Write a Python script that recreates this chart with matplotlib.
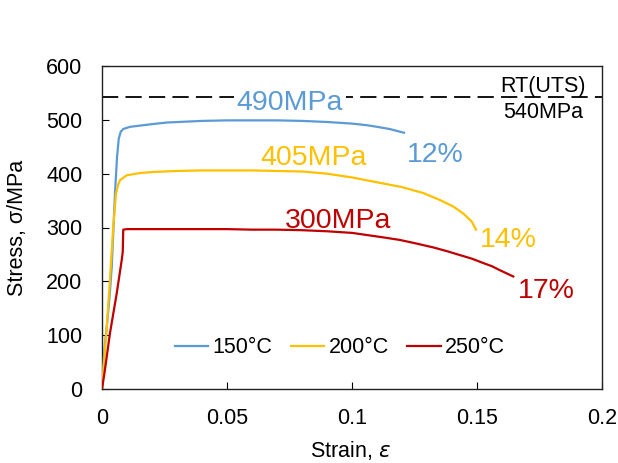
import matplotlib
matplotlib.use("Agg")
import matplotlib.pyplot as plt

plt.rcParams['font.family'] = ['Liberation Sans', 'DejaVu Sans']

# 150 C
strain_150 = [0, 0.0005, 0.001, 0.002, 0.003, 0.0039, 0.0046, 0.0052, 0.006, 0.0067, 0.0075,
              0.0085, 0.0112, 0.02, 0.026, 0.04, 0.05, 0.06, 0.07, 0.08, 0.09, 0.1, 0.106,
              0.11, 0.115, 0.1208]
stress_150 = [0, 40, 75, 120, 170, 227, 300, 364, 430, 465, 478,
              483, 487, 492, 495, 498, 499, 499, 499, 498, 496, 493, 490,
              487, 483, 476]
# 200 C
strain_200 = [0, 0.001, 0.0019, 0.003, 0.0045, 0.0056, 0.0065, 0.0072, 0.0099, 0.015, 0.02,
              0.03, 0.04, 0.05, 0.06, 0.07, 0.08, 0.09, 0.1, 0.11, 0.12, 0.1285,
              0.1352, 0.1405, 0.1445, 0.1479, 0.1496]
stress_200 = [0, 60, 116, 190, 301, 363, 380, 388, 397, 401, 403,
              405, 406, 406, 406, 405, 404, 400, 393, 384, 375, 364,
              351, 339, 326, 311, 296]
# 250 C
strain_250 = [0, 0.001, 0.0032, 0.0059, 0.0079, 0.0083, 0.0085, 0.01, 0.02, 0.03, 0.04,
              0.05, 0.06, 0.07, 0.08, 0.09, 0.1, 0.106, 0.112, 0.119, 0.126, 0.1325,
              0.138, 0.143, 0.148, 0.1525, 0.156, 0.159, 0.1645]
stress_250 = [0, 30, 104, 178, 240, 255, 296, 297, 297, 297, 297,
              297, 296, 296, 295, 293, 290, 286, 282, 277, 270, 263,
              256, 249, 242, 234, 228, 221, 209]

series_labels = ['150°C', '200°C', '250°C']
rt_uts = 542
xticks = [0, 0.05, 0.1, 0.15, 0.2]
xtick_labels = ['0', '0.05', '0.1', '0.15', '0.2']
yticks = [0, 100, 200, 300, 400, 500, 600]

c_blue = '#5B9BD5'
c_yel = '#FFC000'
c_red = '#C00000'

fig = plt.figure(figsize=(6.18, 4.63), dpi=100)
ax = fig.add_axes([102/618, 1-389/463, 500/618, 323/463])

ax.axhline(rt_uts, color='black', lw=1.3, linestyle=(0, (9, 4)), zorder=1)
ax.plot(strain_150, stress_150, color=c_blue, lw=1.6, label=series_labels[0], zorder=3)
ax.plot(strain_200, stress_200, color=c_yel, lw=1.6, label=series_labels[1], zorder=3)
ax.plot(strain_250, stress_250, color=c_red, lw=1.6, label=series_labels[2], zorder=3)

ax.set_xlim(0, 0.2)
ax.set_ylim(0, 600)
ax.set_xticks(xticks)
ax.set_xticklabels(xtick_labels)
ax.set_yticks(yticks)
ax.tick_params(direction='in', length=5, width=0.8, labelsize=15.5, pad=14, colors='black')
for s in ax.spines.values():
    s.set_linewidth(1.0)
    s.set_color('#222222')

ax.set_xlabel('Strain, $\\it{ε}$', fontsize=15.5)
ax.set_ylabel('Stress, σ/MPa', fontsize=15.5)
ax.xaxis.set_label_coords((350-102)/500, -(439-389)/323)
ax.yaxis.set_label_coords(-(102-28)/500, 0.5)

fs = 20.5
ax.text(0.0752, 518.6, '490MPa', color=c_blue, fontsize=fs, ha='center', va='baseline',
        bbox=dict(facecolor='white', edgecolor='none', pad=2), zorder=2)
ax.text(0.0848, 416, '405MPa', color=c_yel, fontsize=fs, ha='center', va='baseline', zorder=4)
ax.text(0.0944, 299, '300MPa', color=c_red, fontsize=fs, ha='center', va='baseline', zorder=4)
ax.text(0.1334, 422, '12%', color=c_blue, fontsize=fs, ha='center', va='baseline')
ax.text(0.1626, 264, '14%', color=c_yel, fontsize=fs, ha='center', va='baseline')
ax.text(0.1778, 169, '17%', color=c_red, fontsize=fs, ha='center', va='baseline')
ax.text(0.1766, 552.6, 'RT(UTS)', color='black', fontsize=15.5, ha='center', va='baseline')
ax.text(0.1764, 503, '540MPa', color='black', fontsize=15.5, ha='center', va='baseline')

ax.legend(loc='center', bbox_to_anchor=(0.476, 0.127), ncol=3, frameon=False,
          fontsize=15.5, handlelength=1.55, handletextpad=0.2, columnspacing=0.85)

fig.savefig('out.png', dpi=100)
